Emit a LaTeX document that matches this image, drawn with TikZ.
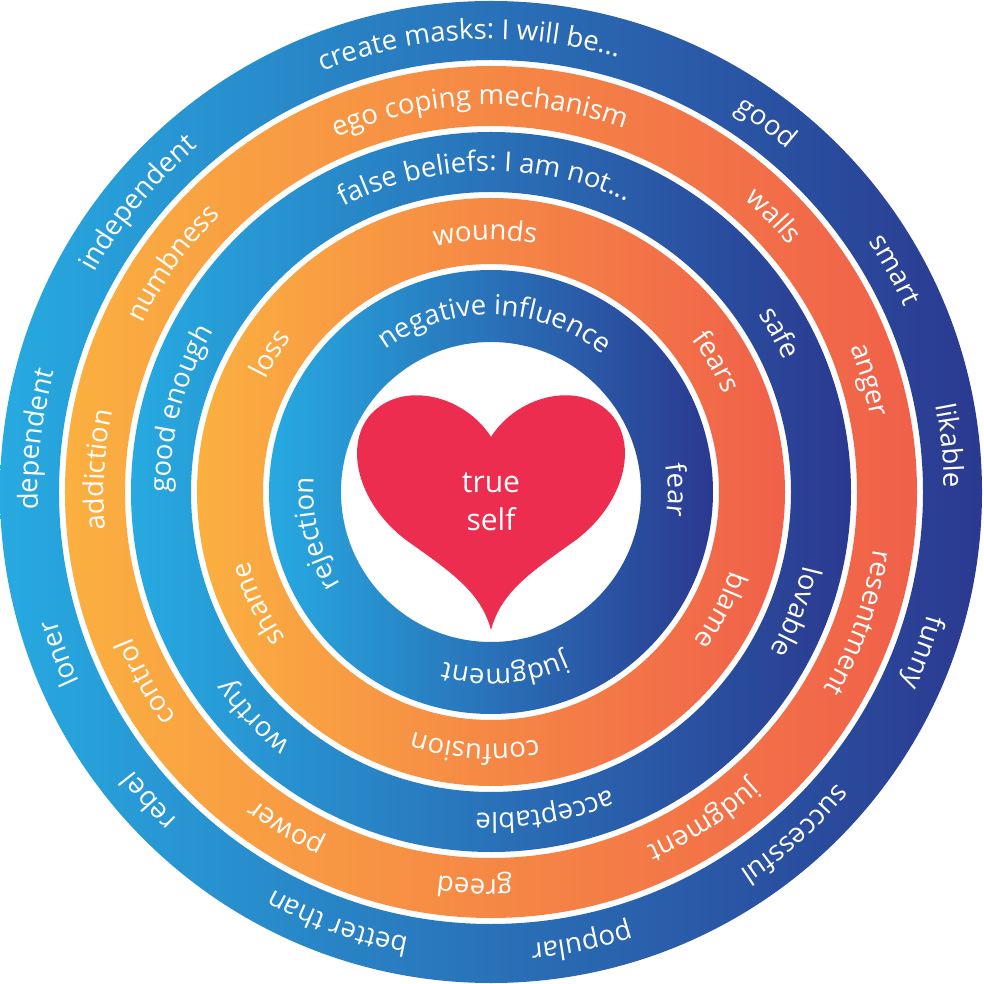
\documentclass[tikz,border=0pt]{standalone}
\usepackage{fontspec}
\setmainfont{Open Sans}
\usetikzlibrary{decorations.text}
\definecolor{bl}{HTML}{27AAE1}
\definecolor{br}{HTML}{2B3990}
\definecolor{ol}{HTML}{FBB040}
\definecolor{orr}{HTML}{F0604A}
\definecolor{heartc}{HTML}{EC2D4F}
\newcommand\lfont{\fontsize{27.5}{27.5}\selectfont}
\newcommand\arctext[3]{%
  \path[decorate,decoration={text along path,text={|\lfont|#3},text align=center,text color=white}]
    ({#2+80}:#1) arc[start angle={#2+80},end angle={#2-80},radius=#1];}
\begin{document}
\begin{tikzpicture}[x=1pt,y=1pt]
\useasboundingbox[fill=white] (-491,-492) rectangle (492,492);
\path[even odd rule,left color=bl,right color=br] (0,0) circle[radius=491] (0,0) circle[radius=432];
\path[even odd rule,left color=ol,right color=orr] (0,0) circle[radius=426] (0,0) circle[radius=366];
\path[even odd rule,left color=bl,right color=br] (0,0) circle[radius=360] (0,0) circle[radius=300];
\path[even odd rule,left color=ol,right color=orr] (0,0) circle[radius=294] (0,0) circle[radius=228];
\path[even odd rule,left color=bl,right color=br] (0,0) circle[radius=222] (0,0) circle[radius=150];
% heart
\fill[heartc] (0,55) .. controls (-25,95) and (-85,112) .. (-118,80)
  .. controls (-148,50) and (-135,-10) .. (-85,-48)
  .. controls (-40,-80) and (-10,-100) .. (0,-138)
  .. controls (10,-100) and (40,-80) .. (85,-48)
  .. controls (135,-10) and (148,50) .. (118,80)
  .. controls (85,112) and (25,95) .. (0,55) -- cycle;
\node[text=white,font=\fontsize{30}{38}\selectfont,align=center] (ts) at (0,-10) {true\\self};
% outer
\arctext{453}{92.8}{create masks: I will be...}
\arctext{453}{53.3}{good}
\arctext{453}{28.8}{smart}
\arctext{453}{5.8}{likable}
\arctext{453}{-20.4}{funny}
\arctext{453}{-48.4}{successful}
\arctext{453}{-78.6}{popular}
\arctext{453}{-109.6}{better than}
\arctext{453}{-137.9}{rebel}
\arctext{453}{-159.5}{loner}
\arctext{453}{173.4}{dependent}
\arctext{453}{140.7}{independent}
% orange 1
\arctext{387}{91.7}{ego coping mechanism}
\arctext{387}{44.3}{walls}
\arctext{387}{16.5}{anger}
\arctext{387}{-19.6}{resentment}
\arctext{387}{-57.1}{judgment}
\arctext{387}{-92.4}{greed}
\arctext{387}{-121.4}{power}
\arctext{387}{-151.2}{control}
\arctext{387}{176.8}{addiction}
\arctext{387}{144.3}{numbness}
% blue 2
\arctext{321}{91.1}{false beliefs: I am not...}
\arctext{321}{28.9}{safe}
\arctext{321}{-21.5}{lovable}
\arctext{321}{-80.4}{acceptable}
\arctext{321}{-136.6}{worthy}
\arctext{321}{165}{good enough}
% orange 2
\arctext{252}{91.3}{wounds}
\arctext{252}{30}{fears}
\arctext{252}{-27.3}{blame}
\arctext{252}{-93.6}{confusion}
\arctext{252}{-154.4}{shame}
\arctext{252}{147.9}{loss}
% inner
\arctext{177}{88.7}{negative influence}
\arctext{177}{0.6}{fear}
\arctext{177}{-85.5}{judgment}
\arctext{177}{-166.6}{rejection}
\end{tikzpicture}
\end{document}
